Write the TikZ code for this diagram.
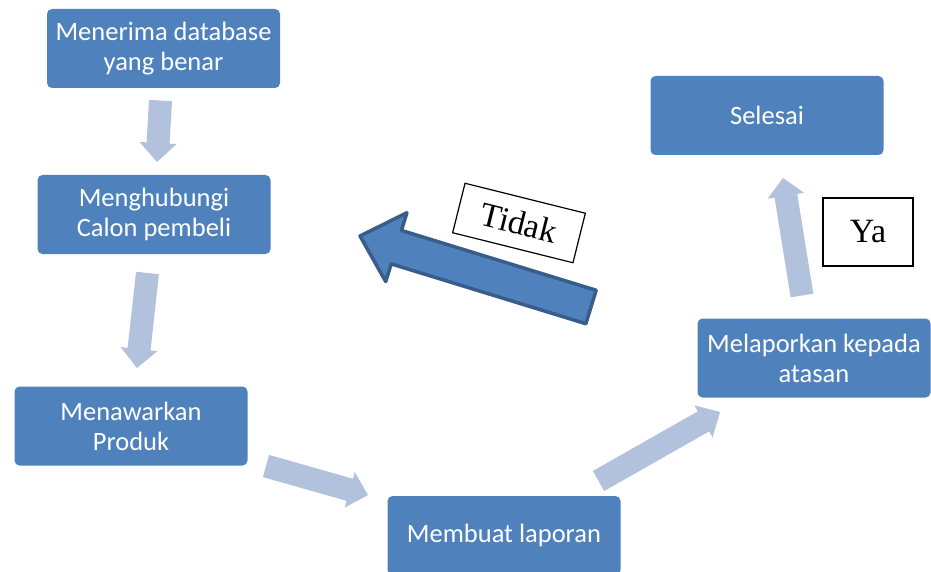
\documentclass[tikz,border=0pt]{standalone}
\usepackage{fontspec}
\setmainfont{Carlito}
\newfontfamily\timesfont{Liberation Serif}
\usetikzlibrary{calc}

\definecolor{boxblue}{HTML}{4F81BD}
\definecolor{boxedge}{HTML}{385D8A}
\definecolor{flowblue}{RGB}{178,193,220}

% block arrow: [style]{tail}{tip}{half shaft}{half head}{head length}
\newcommand{\blockarrow}[6][]{%
    \coordinate (hb) at ($(#3)!#6!(#2)$);
    \draw[#1] ($(#2)!#4!90:(#3)$) -- ($(hb)!#4!90:(#3)$) -- ($(hb)!#5!90:(#3)$)
        -- (#3) -- ($(hb)!#5!-90:(#3)$) -- ($(hb)!#4!-90:(#3)$)
        -- ($(#2)!#4!-90:(#3)$) -- cycle;
}

\begin{document}
\begin{tikzpicture}[
    x=1pt, y=-1pt,
    stepbox/.style={rectangle, rounded corners=5pt, fill=boxblue, text=white,
        minimum width=233pt, minimum height=79pt, align=center, inner sep=2pt,
        font=\fontsize{26.5}{30}\selectfont},
    flow/.style={fill=flowblue, draw=none},
    answer/.style={draw, line width=1.2pt, fill=white, font=\timesfont\fontsize{34}{38}\selectfont}
]
    \useasboundingbox (0,0) rectangle (931,572);

    \node[stepbox] (terima) at (163.5,48.5) {Menerima database\\yang benar};
    \node[stepbox] (hubungi) at (154,214.5) {Menghubungi\\Calon pembeli};
    \node[stepbox] (tawar) at (131,426) {Menawarkan\\Produk};
    \node[stepbox] (laporan) at (504,535.5) {Membuat laporan};
    \node[stepbox] (lapor) at (814,358) {Melaporkan kepada\\atasan};
    \node[stepbox] (selesai) at (767,115.5) {Selesai};

    \node[answer, minimum width=90pt, minimum height=68pt] (ya) at (868,232) {Ya};
    \node[answer, minimum width=124pt, minimum height=51pt, rotate=-14] (tidak) at (519,223) {Tidak};

    % ends of the arrows
    \coordinate (a1) at (160.5,100.5);  \coordinate (b1) at (157,162);
    \coordinate (a2) at (147.5,273);    \coordinate (b2) at (137,368);
    \coordinate (a3) at (266,466);      \coordinate (b3) at (368,495);
    \coordinate (a4) at (598.5,481);    \coordinate (b4) at (720,412);
    \coordinate (a5) at (802,295.5);    \coordinate (b5) at (783,178);
    \coordinate (a6) at (591,307);      \coordinate (b6) at (360,236);

    \blockarrow[flow]{a1}{b1}{11.5pt}{18.5pt}{19pt}
    \blockarrow[flow]{a2}{b2}{11.5pt}{18.5pt}{19pt}
    \blockarrow[flow]{a3}{b3}{11.5pt}{18.5pt}{19pt}
    \blockarrow[flow]{a4}{b4}{11.5pt}{18.5pt}{19pt}
    \blockarrow[flow]{a5}{b5}{11.5pt}{18.5pt}{18pt}
    \blockarrow[fill=boxblue, draw=boxedge, line width=3.5pt, line join=round]{a6}{b6}{17.5pt}{36pt}{38pt}  % kembali
\end{tikzpicture}
\end{document}
